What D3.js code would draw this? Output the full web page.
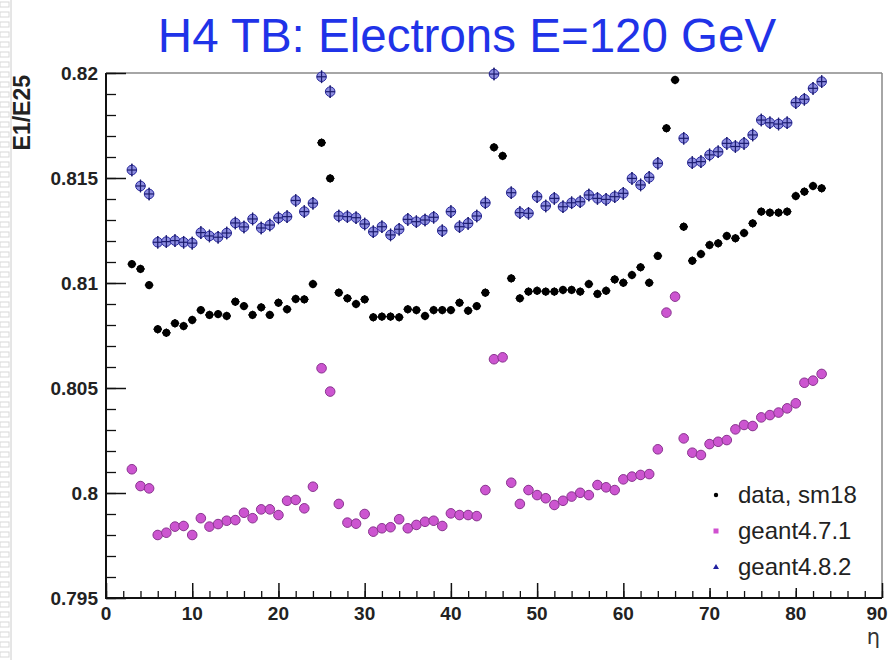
<!DOCTYPE html>
<html><head><meta charset="utf-8">
<script src="https://cdn.jsdelivr.net/npm/d3@7"></script>
<style>body{margin:0;background:#fff}svg{display:block}</style>
</head><body>
<svg id="c" width="891" height="660"></svg>
<script>
const title = "H4 TB: Electrons E=120 GeV";
const yTicks = [0.795, 0.8, 0.805, 0.81, 0.815, 0.82];
const yTickLabels = ["0.795", "0.8", "0.805", "0.81", "0.815", "0.82"];
const xTicks = [0, 10, 20, 30, 40, 50, 60, 70, 80, 90];
const seriesNames = ["data, sm18", "geant4.7.1", "geant4.8.2"];

const dataEta = d3.range(3, 84);
const dataVal = [0.81090,0.81067,0.80990,0.80780,0.80763,0.80808,0.80795,0.80824,0.80871,0.80848,
0.80852,0.80843,0.80911,0.80890,0.80848,0.80884,0.80848,0.80906,0.80875,0.80924,
0.80922,0.80995,0.81668,0.81498,0.80954,0.80927,0.80900,0.80922,0.80837,0.80840,
0.80840,0.80837,0.80875,0.80871,0.80843,0.80871,0.80871,0.80871,0.80906,0.80868,
0.80890,0.80954,0.81646,0.81605,0.81022,0.80927,0.80959,0.80963,0.80959,0.80959,
0.80967,0.80967,0.80959,0.80995,0.80948,0.80963,0.81017,0.81001,0.81038,0.81075,
0.81001,0.81129,0.81737,0.81967,0.81268,0.81106,0.81138,0.81181,0.81189,0.81224,
0.81213,0.81238,0.81284,0.81340,0.81335,0.81335,0.81340,0.81414,0.81435,0.81462,0.81451];

const g471Eta = d3.range(3, 84);
const g471Val = [0.80113,0.80033,0.80022,0.79800,0.79811,0.79840,0.79843,0.79800,0.79880,0.79840,
0.79852,0.79868,0.79871,0.79906,0.79880,0.79922,0.79922,0.79895,0.79963,0.79967,
0.79927,0.80030,0.80594,0.80483,0.79948,0.79859,0.79854,0.79900,0.79816,0.79832,
0.79837,0.79875,0.79832,0.79848,0.79863,0.79868,0.79843,0.79903,0.79895,0.79895,
0.79890,0.80014,0.80637,0.80646,0.80049,0.79948,0.80014,0.79990,0.79975,0.79943,
0.79963,0.79983,0.80001,0.79990,0.80038,0.80027,0.80014,0.80065,0.80078,0.80086,
0.80090,0.80208,0.80859,0.80935,0.80260,0.80192,0.80181,0.80233,0.80244,0.80252,
0.80303,0.80324,0.80319,0.80360,0.80371,0.80383,0.80403,0.80427,0.80525,0.80535,0.80567];

const g482Eta = [3,4,5,6,7,8,9,10,11,12,13,14,15,16,17,18,19,20,21,22,23,24,25,26,27,28,29,30,
31,32,33,34,35,36,37,38,39,40,41,42,43,44,45,47,48,49,50,51,52,53,54,55,56,57,58,59,60,
61,62,63,64,67,68,69,70,71,72,73,74,75,76,77,78,79,80,81,82,83];
const g482Val = [0.81538,0.81462,0.81424,0.81194,0.81197,0.81202,0.81194,0.81190,0.81240,0.81224,
0.81218,0.81238,0.81286,0.81267,0.81305,0.81262,0.81276,0.81310,0.81316,0.81393,
0.81340,0.81380,0.81982,0.81911,0.81319,0.81316,0.81311,0.81281,0.81244,0.81268,
0.81229,0.81256,0.81303,0.81292,0.81300,0.81313,0.81249,0.81340,0.81268,0.81284,
0.81319,0.81382,0.81995,0.81430,0.81335,0.81332,0.81411,0.81367,0.81403,0.81363,
0.81382,0.81387,0.81419,0.81403,0.81398,0.81411,0.81427,0.81498,0.81467,0.81503,
0.81570,0.81689,0.81573,0.81578,0.81610,0.81625,0.81665,0.81650,0.81665,0.81705,
0.81776,0.81763,0.81757,0.81763,0.81859,0.81875,0.81927,0.81959];

const svg = d3.select("#c");
const L = 106, R = 882, T = 73, B = 598;
const x = d3.scaleLinear().domain([0, 90]).range([L, R]);
const y = d3.scaleLinear().domain([0.795, 0.82]).range([B, T]);

// slide edge decoration
const deco = svg.append("g");
for (let i = 0; i < 66; i++) {
  deco.append("rect").attr("x", 0).attr("y", i * 10 + 2).attr("width", 9).attr("height", 5)
    .attr("fill", "none").attr("stroke", "#d8d8d8").attr("stroke-width", 1);
}
deco.append("line").attr("x1", 11).attr("x2", 11).attr("y1", 0).attr("y2", 660).attr("stroke", "#ccc");

// title
svg.append("text").attr("x", 467).attr("y", 52).attr("text-anchor", "middle")
  .attr("font-family", "Liberation Sans, Arial, sans-serif").attr("font-size", 47.5)
  .attr("fill", "#1f33e8").text(title);

// frame top/right
svg.append("line").attr("x1", L).attr("x2", R).attr("y1", T).attr("y2", T).attr("stroke", "#888").attr("stroke-width", 1.5);
svg.append("line").attr("x1", R).attr("x2", R).attr("y1", T).attr("y2", B).attr("stroke", "#888").attr("stroke-width", 1.5);

// axes
const yAxis = d3.axisRight(y).tickValues(yTicks).tickSize(20).tickFormat("");
svg.append("g").attr("transform", `translate(${L},0)`).call(yAxis)
  .call(g => g.select(".domain").remove())
  .call(g => g.selectAll("line").attr("stroke", "#111").attr("stroke-width", 1.5));
const yMinor = d3.range(0.795, 0.8201, 0.001);
svg.append("g").attr("transform", `translate(${L},0)`)
  .call(d3.axisRight(y).tickValues(yMinor).tickSize(10).tickFormat(""))
  .call(g => g.select(".domain").remove())
  .call(g => g.selectAll("line").attr("stroke", "#111").attr("stroke-width", 1.3));
const xAxis = d3.axisTop(x).tickValues(xTicks).tickSize(15).tickFormat("");
svg.append("g").attr("transform", `translate(0,${B})`).call(xAxis)
  .call(g => g.select(".domain").remove())
  .call(g => g.selectAll("line").attr("stroke", "#111").attr("stroke-width", 1.5));
svg.append("g").attr("transform", `translate(0,${B})`)
  .call(d3.axisTop(x).tickValues(d3.range(0, 91, 2)).tickSize(7).tickFormat(""))
  .call(g => g.select(".domain").remove())
  .call(g => g.selectAll("line").attr("stroke", "#111").attr("stroke-width", 1.3));
svg.append("line").attr("x1", L).attr("x2", L).attr("y1", T).attr("y2", B + 1).attr("stroke", "#111").attr("stroke-width", 2);
svg.append("line").attr("x1", L - 1).attr("x2", R).attr("y1", B).attr("y2", B).attr("stroke", "#111").attr("stroke-width", 2);

// tick labels
const font = "Liberation Sans, Arial, sans-serif";
svg.append("g").selectAll("text").data(yTicks).join("text")
  .attr("x", L - 8).attr("y", d => y(d) + 6.5).attr("text-anchor", "end")
  .attr("font-family", font).attr("font-weight", "bold").attr("font-size", 19).attr("fill", "#222")
  .text((d, i) => yTickLabels[i]);
svg.append("g").selectAll("text").data(xTicks).join("text")
  .attr("x", d => Math.min(x(d), 877)).attr("y", 620).attr("text-anchor", "middle")
  .attr("font-family", font).attr("font-weight", "bold").attr("font-size", 19).attr("fill", "#222")
  .text(d => d);

// axis titles
svg.append("text").attr("transform", "translate(30,75) rotate(-90)").attr("text-anchor", "end")
  .attr("font-family", font).attr("font-weight", "bold").attr("font-size", 23).attr("fill", "#222").text("E1/E25");
svg.append("text").attr("x", 880).attr("y", 644).attr("text-anchor", "end")
  .attr("font-family", "DejaVu Sans, sans-serif").attr("font-size", 21).attr("fill", "#333").text("η");

// series drawing
const hw = (x(1) - x(0)) / 2;
function drawSeries(eta, val, err, opt) {
  const g = svg.append("g");
  const pts = eta.map((e, i) => ({ e, v: val[i] }));
  const grp = g.selectAll("g").data(pts).join("g");
  grp.append("line").attr("x1", d => x(d.e) - hw).attr("x2", d => x(d.e) + hw)
    .attr("y1", d => y(d.v)).attr("y2", d => y(d.v)).attr("stroke", opt.bar).attr("stroke-width", 1.3);
  grp.append("line").attr("x1", d => x(d.e)).attr("x2", d => x(d.e))
    .attr("y1", d => y(d.v + err)).attr("y2", d => y(d.v - err)).attr("stroke", opt.bar).attr("stroke-width", 1.3);
  grp.append("circle").attr("cx", d => x(d.e)).attr("cy", d => y(d.v)).attr("r", opt.r)
    .attr("fill", opt.fill).attr("stroke", opt.stroke).attr("stroke-width", 1).attr("fill-opacity", opt.op);
  if (opt.cross) {
    grp.append("line").attr("x1", d => x(d.e) - opt.r).attr("x2", d => x(d.e) + opt.r)
      .attr("y1", d => y(d.v)).attr("y2", d => y(d.v)).attr("stroke", opt.cross).attr("stroke-width", 1.2);
    grp.append("line").attr("x1", d => x(d.e)).attr("x2", d => x(d.e))
      .attr("y1", d => y(d.v + err)).attr("y2", d => y(d.v - err)).attr("stroke", opt.cross).attr("stroke-width", 1.2);
  }
}
drawSeries(g471Eta, g471Val, 0.00022, { r: 4.8, fill: "#cc55d0", stroke: "#8a3590", bar: "#333", op: 1 });
drawSeries(dataEta, dataVal, 0.0002, { r: 3.6, fill: "#000", stroke: "#000", bar: "#000", op: 1 });
drawSeries(g482Eta, g482Val, 0.0003, { r: 4.8, fill: "#8e8ee0", stroke: "#26269a", bar: "#1c1c70", op: 1, cross: "#1c1c70" });

// legend
const lg = svg.append("g");
const ly = [495, 531, 567];
lg.append("rect").attr("x", 703).attr("y", 474).attr("width", 176).attr("height", 114).attr("fill", "#fff");
lg.append("circle").attr("cx", 716).attr("cy", ly[0]).attr("r", 2.2).attr("fill", "#000");
lg.append("rect").attr("x", 713.5).attr("y", ly[1] - 2.5).attr("width", 5).attr("height", 5).attr("fill", "#d050d0");
lg.append("path").attr("d", `M716,${ly[2] - 3} L719,${ly[2] + 2} L713,${ly[2] + 2} Z`).attr("fill", "#2020a0");
lg.selectAll("text").data(seriesNames).join("text")
  .attr("x", 738).attr("y", (d, i) => ly[i] + 8)
  .attr("font-family", font).attr("font-size", 24).attr("fill", "#222").text(d => d);
</script>
</body></html>
